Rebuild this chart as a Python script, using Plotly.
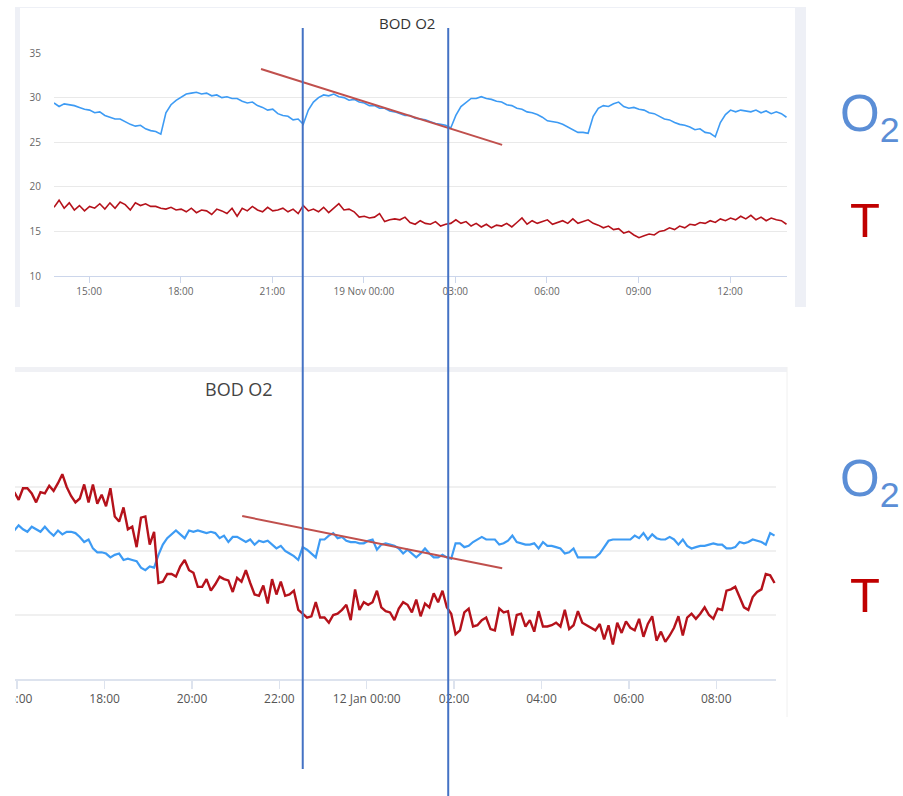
import plotly.graph_objects as go
import pandas as pd

W, H = 903, 796


def px(x):
    return x / W


def py(y):
    return 1 - y / H


# ---------------- data ----------------
# Top chart: 18-19 Nov, one reading every 10 minutes
top_o2 = [
    29.4, 29.0, 29.3, 29.2, 29.1, 28.9, 28.7, 28.6, 28.3, 28.4,
    28.0, 27.8, 27.6, 27.6, 27.3, 27.0, 26.8, 26.9, 26.5, 26.3,
    26.2, 25.9, 28.3, 29.2, 29.7, 30.1, 30.4, 30.5, 30.6, 30.4,
    30.5, 30.2, 30.3, 30.0, 30.1, 29.9, 29.9, 29.6, 29.4, 29.5,
    29.1, 28.9, 28.6, 28.7, 28.2, 28.0, 27.9, 27.5, 27.6, 27.0,
    28.6, 29.5, 30.0, 30.3, 30.2, 30.4, 30.1, 30.0, 29.7, 29.8,
    29.5, 29.4, 29.1, 29.1, 28.8, 28.8, 28.5, 28.4, 28.2, 28.0,
    28.0, 27.7, 27.6, 27.5, 27.3, 27.1, 27.0, 26.9, 26.6, 28.0,
    29.0, 29.5, 29.9, 29.9, 30.1, 29.9, 29.8, 29.6, 29.5, 29.2,
    29.1, 28.8, 28.7, 28.4, 28.3, 28.1, 27.8, 27.4, 27.3, 27.2,
    27.0, 26.7, 26.4, 26.1, 26.1, 26.0, 27.9, 28.8, 29.1, 29.0,
    29.3, 29.5, 29.0, 28.8, 28.9, 28.7, 28.6, 28.3, 28.2, 27.9,
    27.6, 27.5, 27.2, 27.0, 26.9, 26.7, 26.4, 26.5, 26.1, 26.0,
    25.6, 27.2, 28.1, 28.6, 28.4, 28.6, 28.5, 28.4, 28.6, 28.3,
    28.5, 28.2, 28.4, 28.2, 27.8,
]
top_t = [
    17.7, 18.5, 17.6, 18.2, 17.4, 17.9, 17.3, 17.8, 17.6, 18.1,
    17.5, 18.2, 17.6, 18.3, 18.0, 17.4, 18.2, 17.9, 18.1, 17.8,
    17.8, 17.6, 17.5, 17.7, 17.4, 17.5, 17.2, 17.6, 17.1, 17.4,
    17.3, 16.9, 17.5, 17.3, 17.0, 17.6, 16.7, 17.6, 17.3, 17.8,
    17.4, 17.2, 17.7, 17.3, 17.4, 17.6, 17.2, 17.5, 17.0, 17.9,
    17.3, 17.5, 17.2, 17.7, 17.1, 17.6, 18.1, 17.4, 17.5, 17.2,
    16.6, 16.7, 16.5, 16.6, 17.0, 16.1, 16.3, 16.4, 16.3, 16.6,
    16.0, 15.8, 16.2, 15.9, 15.8, 16.1, 15.6, 15.8, 15.9, 16.3,
    15.9, 16.1, 15.6, 15.9, 15.5, 15.8, 15.4, 15.7, 15.6, 15.9,
    15.5, 16.0, 16.5, 15.8, 16.2, 15.9, 16.1, 16.3, 15.8, 16.0,
    16.2, 15.9, 16.4, 15.9, 16.1, 16.3, 15.9, 15.7, 15.4, 15.6,
    15.2, 15.3, 14.8, 15.0, 14.6, 14.3, 14.5, 14.7, 14.6, 15.0,
    15.1, 15.4, 15.2, 15.6, 15.4, 15.8, 15.7, 16.0, 15.9, 16.2,
    16.0, 16.4, 16.2, 16.5, 16.3, 16.7, 16.4, 16.8, 16.3, 16.6,
    16.2, 16.5, 16.3, 16.2, 15.8,
]

# Bottom chart: 11-12 Jan, one reading every 6 minutes (value axis unlabelled)
bot_o2 = [
    21.6, 22.0, 21.7, 21.5, 21.9, 21.7, 21.5, 21.9, 21.5, 21.2,
    21.6, 21.3, 21.5, 21.5, 21.4, 21.1, 20.7, 20.9, 20.2, 19.9,
    19.9, 19.8, 19.5, 19.7, 19.8, 19.3, 19.4, 19.3, 19.2, 18.7,
    18.5, 18.8, 18.7, 19.7, 20.5, 21.0, 21.3, 21.6, 21.3, 21.0,
    21.6, 21.5, 21.6, 21.5, 21.4, 21.5, 21.4, 21.0, 21.2, 20.7,
    21.1, 21.1, 20.9, 20.7, 20.9, 20.5, 20.8, 20.7, 20.8, 20.5,
    20.2, 20.4, 20.0, 19.8, 19.6, 19.3, 20.3, 20.1, 19.8, 19.5,
    20.9, 20.9, 21.2, 21.4, 21.0, 21.1, 20.8, 20.7, 20.7, 20.6,
    20.6, 20.8, 20.9, 20.1, 20.5, 20.6, 20.5, 20.4, 20.2, 19.8,
    20.1, 19.8, 19.5, 19.8, 20.2, 19.8, 19.5, 19.5, 19.7, 19.5,
    19.4, 20.6, 20.6, 20.3, 20.4, 20.7, 20.9, 21.1, 20.9, 20.9,
    20.9, 20.5, 20.6, 20.8, 21.2, 20.7, 20.6, 20.5, 20.5, 20.6,
    20.2, 20.7, 20.4, 20.4, 20.3, 20.2, 19.8, 19.9, 20.2, 19.5,
    19.5, 19.5, 19.5, 19.5, 19.8, 20.3, 20.8, 20.9, 20.9, 20.9,
    20.9, 20.9, 21.2, 21.0, 21.4, 20.9, 21.3, 21.0, 20.9, 20.9,
    21.1, 20.9, 20.5, 20.9, 20.4, 20.2, 20.3, 20.4, 20.4, 20.5,
    20.6, 20.5, 20.5, 20.2, 20.2, 20.3, 20.7, 20.6, 20.7, 20.9,
    20.8, 20.7, 20.5, 21.4, 21.2,
]
bot_t = [
    24.6, 24.0, 24.9, 24.9, 24.5, 23.8, 24.6, 24.5, 25.1, 24.7,
    25.3, 26.0, 25.0, 24.3, 23.8, 24.1, 25.2, 23.8, 25.2, 23.7,
    24.4, 23.5, 24.9, 22.7, 22.3, 23.4, 21.7, 21.9, 20.3, 22.6,
    22.7, 20.5, 21.5, 17.5, 17.6, 18.2, 18.2, 18.0, 18.8, 19.3,
    18.5, 18.3, 17.2, 17.2, 17.8, 16.9, 17.4, 18.0, 17.8, 17.7,
    16.8, 17.9, 17.6, 18.5, 17.5, 16.6, 16.5, 17.3, 15.9, 17.8,
    16.6, 17.6, 16.5, 16.6, 16.9, 15.4, 15.1, 14.8, 14.9, 16.0,
    14.8, 14.8, 14.4, 15.0, 15.1, 15.4, 15.8, 14.6, 17.0, 15.4,
    16.0, 15.8, 16.0, 16.9, 15.6, 15.3, 15.2, 14.6, 15.5, 16.0,
    15.8, 15.2, 16.2, 14.9, 15.9, 15.6, 16.7, 16.0, 16.9, 15.6,
    15.1, 13.5, 13.8, 15.2, 15.5, 14.1, 14.2, 14.6, 14.8, 13.9,
    13.8, 15.5, 15.2, 15.3, 13.4, 15.0, 15.1, 14.1, 14.6, 13.7,
    15.3, 14.1, 14.1, 14.2, 14.4, 14.1, 15.4, 13.9, 14.2, 15.3,
    14.4, 14.2, 14.0, 13.8, 14.3, 13.1, 14.2, 12.7, 14.4, 13.6,
    14.5, 14.0, 13.8, 14.7, 13.3, 14.3, 14.9, 13.0, 13.7, 12.9,
    13.4, 14.0, 14.9, 13.4, 14.8, 15.1, 14.7, 15.1, 15.6, 15.0,
    14.7, 15.5, 15.4, 16.9, 17.0, 17.2, 16.4, 15.6, 15.4, 16.4,
    16.8, 17.0, 18.2, 18.1, 17.5,
]

top_start, top_step = "2019-11-18 13:51", "10min"
bot_start, bot_step = "2020-01-11 15:56", "6min"

top_ticks = ["2019-11-18 15:00", "2019-11-18 18:00", "2019-11-18 21:00",
             "2019-11-19 00:00", "2019-11-19 03:00", "2019-11-19 06:00",
             "2019-11-19 09:00", "2019-11-19 12:00"]
top_ticklabels = ["15:00", "18:00", "21:00", "19 Nov 00:00", "03:00",
                  "06:00", "09:00", "12:00"]
bot_ticks = ["2020-01-11 16:00", "2020-01-11 18:00", "2020-01-11 20:00",
             "2020-01-11 22:00", "2020-01-12 00:00", "2020-01-12 02:00",
             "2020-01-12 04:00", "2020-01-12 06:00", "2020-01-12 08:00"]
bot_ticklabels = ["16:00", "18:00", "20:00", "22:00", "12 Jan 00:00",
                  "02:00", "04:00", "06:00", "08:00"]

# marker lines (times on the top chart) and trend lines
mark_times = ["2019-11-18 22:00", "2019-11-19 02:46"]
top_trend_x = ["2019-11-18 20:38", "2019-11-19 04:32"]
top_trend_y = [33.2, 24.7]
bot_trend_x = ["2020-01-11 21:09", "2020-01-12 03:06"]
bot_trend_y = [22.73, 18.65]

title_text = "BOD O2"

# ---------------- figure ----------------
top_time = pd.date_range(top_start, periods=len(top_o2), freq=top_step)
bot_time = pd.date_range(bot_start, periods=len(bot_o2), freq=bot_step)

BLUE = "#3d9bf4"
RED = "#b5121b"

fig = go.Figure()
fig.add_trace(go.Scatter(x=top_time, y=top_o2, mode="lines", xaxis="x", yaxis="y",
                         line=dict(color=BLUE, width=1.6), name="O2"))
fig.add_trace(go.Scatter(x=top_time, y=top_t, mode="lines", xaxis="x", yaxis="y",
                         line=dict(color=RED, width=1.6), name="T"))
fig.add_trace(go.Scatter(x=bot_time, y=bot_o2, mode="lines", xaxis="x2", yaxis="y2",
                         line=dict(color=BLUE, width=2.2), name="O2"))
fig.add_trace(go.Scatter(x=bot_time, y=bot_t, mode="lines", xaxis="x2", yaxis="y2",
                         line=dict(color=RED, width=2.4), name="T"))

shapes = []
# panel frames (screenshot borders)
shapes.append(dict(type="rect", xref="paper", yref="paper", layer="below",
                   x0=px(15), x1=px(806), y0=py(307), y1=py(7),
                   fillcolor="#eef0f6", line=dict(width=0)))
shapes.append(dict(type="rect", xref="paper", yref="paper", layer="below",
                   x0=px(20), x1=px(795), y0=py(307), y1=py(8),
                   fillcolor="white", line=dict(width=0)))
shapes.append(dict(type="rect", xref="paper", yref="paper", layer="below",
                   x0=px(15), x1=px(787), y0=py(372), y1=py(367),
                   fillcolor="#f0f1f5", line=dict(width=0)))
shapes.append(dict(type="line", xref="paper", yref="paper", layer="below",
                   x0=px(787), x1=px(787), y0=py(717), y1=py(367),
                   line=dict(color="#f0f0f0", width=1)))
# crop on the left of the bottom screenshot
shapes.append(dict(type="rect", xref="paper", yref="paper", layer="above",
                   x0=0, x1=px(15), y0=py(720), y1=py(360),
                   fillcolor="white", line=dict(width=0)))
# trend lines
shapes.append(dict(type="line", xref="x", yref="y", layer="above",
                   x0=top_trend_x[0], x1=top_trend_x[1],
                   y0=top_trend_y[0], y1=top_trend_y[1],
                   line=dict(color="#c0504d", width=2)))
shapes.append(dict(type="line", xref="x2", yref="y2", layer="above",
                   x0=bot_trend_x[0], x1=bot_trend_x[1],
                   y0=bot_trend_y[0], y1=bot_trend_y[1],
                   line=dict(color="#c0504d", width=2)))
# vertical marker lines spanning both charts
shapes.append(dict(type="line", xref="x", yref="paper", layer="above",
                   x0=mark_times[0], x1=mark_times[0], y0=py(769), y1=py(28),
                   line=dict(color="#4472c4", width=2)))
shapes.append(dict(type="line", xref="x", yref="paper", layer="above",
                   x0=mark_times[1], x1=mark_times[1], y0=py(796), y1=py(28),
                   line=dict(color="#4472c4", width=2)))

annotations = [
    dict(text=title_text, xref="paper", yref="paper", x=px(407), y=py(23),
         showarrow=False, xanchor="center", yanchor="middle",
         font=dict(family="Open Sans", size=15, color="#333333")),
    dict(text=title_text, xref="paper", yref="paper", x=px(239), y=py(389),
         showarrow=False, xanchor="center", yanchor="middle",
         font=dict(family="Open Sans", size=18, color="#444444")),
    dict(text="O<sub>2</sub>", xref="paper", yref="paper", x=px(838), y=py(117),
         showarrow=False, xanchor="left", yanchor="middle",
         font=dict(family="Liberation Sans", size=51, color="#5b8ed6")),
    dict(text="T", xref="paper", yref="paper", x=px(865), y=py(220),
         showarrow=False, xanchor="center", yanchor="middle",
         font=dict(family="Liberation Sans", size=49, color="#c00000")),
    dict(text="O<sub>2</sub>", xref="paper", yref="paper", x=px(838), y=py(482),
         showarrow=False, xanchor="left", yanchor="middle",
         font=dict(family="Liberation Sans", size=51, color="#5b8ed6")),
    dict(text="T", xref="paper", yref="paper", x=px(865), y=py(595),
         showarrow=False, xanchor="center", yanchor="middle",
         font=dict(family="Liberation Sans", size=49, color="#c00000")),
]

fig.update_layout(
    template="none",
    width=W, height=H,
    autosize=False,
    margin=dict(l=0, r=0, t=0, b=0, pad=0),
    paper_bgcolor="white",
    plot_bgcolor="rgba(0,0,0,0)",
    showlegend=False,
    hovermode=False,
    shapes=shapes,
    annotations=annotations,
    xaxis=dict(
        domain=[px(54), px(787)], anchor="y", automargin=False,
        range=["2019-11-18 13:51", "2019-11-19 13:52"],
        tickvals=top_ticks, ticktext=top_ticklabels,
        showgrid=False, zeroline=False,
        showline=True, linecolor="#ccd6eb", linewidth=1,
        ticks="outside", ticklen=6, tickcolor="#ccd6eb",
        tickfont=dict(family="Open Sans", size=10, color="#666666"),
    ),
    yaxis=dict(
        domain=[py(276), py(53)], anchor="x", automargin=False,
        range=[10, 35], tickvals=[10, 15, 20, 25, 30, 35],
        showgrid=True, gridcolor="#e9e9e9", gridwidth=1,
        zeroline=False, showline=False, ticks="",
        ticklabelstandoff=12,
        tickfont=dict(family="Open Sans", size=10, color="#666666"),
    ),
    xaxis2=dict(
        domain=[px(15), px(776)], anchor="y2", automargin=False,
        range=["2020-01-11 15:57", "2020-01-12 09:22"],
        tickvals=bot_ticks, ticktext=bot_ticklabels,
        showgrid=False, zeroline=False,
        showline=True, linecolor="#dde3ee", linewidth=2,
        ticks="outside", ticklen=8, tickcolor="#dde3ee", tickwidth=1.5,
        tickfont=dict(family="Open Sans", size=12, color="#555555"),
    ),
    yaxis2=dict(
        domain=[py(679), py(423)], anchor="x2", automargin=False,
        range=[10, 30], tickvals=[10, 15, 20, 25, 30],
        showticklabels=False,
        showgrid=True, gridcolor="#f0f0f0", gridwidth=2,
        zeroline=False, showline=False, ticks="",
    ),
)

# the page's default 8px body margin would shift the figure; remove it
fig.write_html(
    "out.html",
    config={"displayModeBar": False, "staticPlot": True},
    post_script="document.body.style.margin='0';document.body.style.overflow='hidden';",
)
